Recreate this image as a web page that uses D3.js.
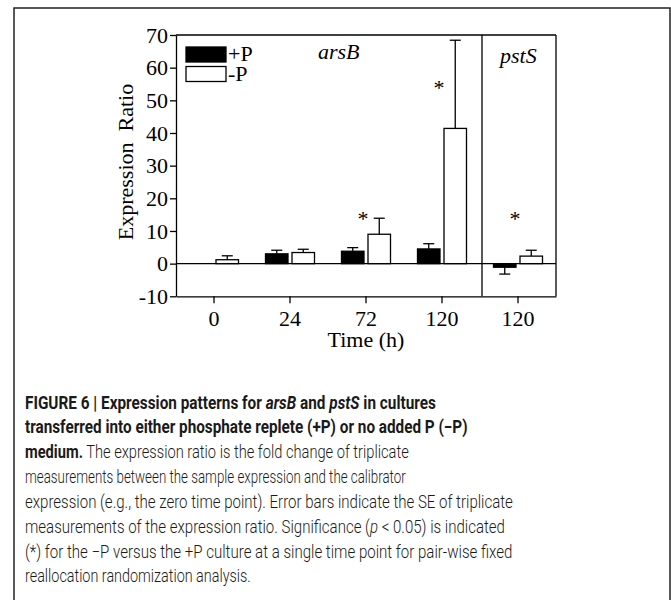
<!DOCTYPE html>
<html>
<head>
<meta charset="utf-8">
<script src="https://cdn.jsdelivr.net/npm/d3@7"></script>
<style>
  body { margin: 0; background: #fff; }
  text { white-space: pre; }
</style>
</head>
<body>
<svg id="fig" width="671" height="600"></svg>
<script>
// values
var categories = ["arsB 0", "arsB 24", "arsB 72", "arsB 120", "pstS 120"];
var tickLabels = ["0", "24", "72", "120", "120"];
var plusP     = [null, 3.0, 3.8, 4.5, -1.1];
var plusPErr  = [null, 1.1, 1.1, 1.6, 2.1];
var minusP    = [1.2, 3.4, 9.0, 41.4, 2.3];
var minusPErr = [1.2, 1.0, 4.9, 27.0, 1.8];
var starAt    = [null, null, 15, 55, 15];   // where the * sits (y units)
var yTicks    = [-10, 0, 10, 20, 30, 40, 50, 60, 70];
var legendLabels = ["+P", "-P"];

var captionLines = [
  [["FIGURE 6 | Expression patterns for ", "b"], ["arsB", "bi"], [" and ", "b"], ["pstS", "bi"], [" in cultures", "b"]],
  [["transferred into either phosphate replete (+P) or no added P (\u2212P)", "b"]],
  [["medium.", "b"], [" The expression ratio is the fold change of triplicate", ""]],
  [["measurements between the sample expression and the calibrator", ""]],
  [["expression (e.g., the zero time point). Error bars indicate the SE of triplicate", ""]],
  [["measurements of the expression ratio. Significance (", ""], ["p", "i"], [" < 0.05) is indicated", ""]],
  [["(*) for the \u2212P versus the +P culture at a single time point for pair-wise fixed", ""]],
  [["reallocation randomization analysis.", ""]]
];
var captionEnds = [436, 468, 409, 406, 513, 505, 513, 251];

var svg = d3.select("#fig");
var serif = "'Liberation Serif', 'Times New Roman', serif";
var fs = 22;

// outer frame of the figure
svg.append("rect")
  .attr("x", 14).attr("y", 8)
  .attr("width", 656).attr("height", 620)
  .attr("fill", "none").attr("stroke", "#222").attr("stroke-width", 1.5);

var plotLeft = 176, plotRight = 556, plotTop = 35, plotBottom = 296.3;

var x = d3.scaleBand()
  .domain(categories)
  .range([plotLeft, plotRight])
  .padding(0);

var y = d3.scaleLinear()
  .domain([-10, 70])
  .range([plotBottom, plotTop]);

var chart = svg.append("g");

function center(i) { return x(categories[i]) + x.bandwidth() / 2; }

var barW = 22.5;
var series = [
  { vals: plusP, errs: plusPErr, fill: "#000", off: -24.5 },
  { vals: minusP, errs: minusPErr, fill: "#fff", off: 2 }
];

function errEnd(s, i) {
  return s.vals[i] + (s.vals[i] < 0 ? -s.errs[i] : s.errs[i]);
}

series.forEach(function(s) {
  var idx = d3.range(categories.length).filter(function(i) { return s.vals[i] != null; });

  // error bars (one-sided, away from zero)
  chart.selectAll(null)
    .data(idx)
    .enter()
    .append("line")
    .attr("x1", function(i) { return center(i) + s.off + barW / 2; })
    .attr("x2", function(i) { return center(i) + s.off + barW / 2; })
    .attr("y1", function(i) { return y(s.vals[i]); })
    .attr("y2", function(i) { return y(errEnd(s, i)); })
    .attr("stroke", "#000").attr("stroke-width", 1.3);

  chart.selectAll(null)
    .data(idx)
    .enter()
    .append("line")
    .attr("x1", function(i) { return center(i) + s.off + barW / 2 - 5.5; })
    .attr("x2", function(i) { return center(i) + s.off + barW / 2 + 5.5; })
    .attr("y1", function(i) { return y(errEnd(s, i)); })
    .attr("y2", function(i) { return y(errEnd(s, i)); })
    .attr("stroke", "#000").attr("stroke-width", 1.3);

  chart.selectAll(null)
    .data(idx)
    .enter()
    .append("rect")
    .attr("x", function(i) { return center(i) + s.off; })
    .attr("y", function(i) { return y(Math.max(0, s.vals[i])); })
    .attr("width", barW)
    .attr("height", function(i) { return Math.abs(y(s.vals[i]) - y(0)); })
    .attr("fill", s.fill)
    .attr("stroke", "#000").attr("stroke-width", 1.3);
});

// significance stars
chart.selectAll(null)
  .data(d3.range(categories.length).filter(function(i) { return starAt[i] != null; }))
  .enter()
  .append("text")
  .attr("x", function(i) { return center(i) - 3; })
  .attr("y", function(i) { return y(starAt[i]) + 11; })
  .attr("text-anchor", "middle")
  .attr("font-family", serif).attr("font-size", 22)
  .text("*");

// zero line, frame and panel divider
var lines = chart.append("g").attr("stroke", "#000").attr("stroke-width", 1.3);
lines.append("line").attr("x1", plotLeft).attr("x2", plotRight).attr("y1", y(0)).attr("y2", y(0));
lines.append("line").attr("x1", plotLeft).attr("x2", plotRight).attr("y1", plotTop).attr("y2", plotTop);
lines.append("line").attr("x1", plotRight).attr("x2", plotRight).attr("y1", plotTop).attr("y2", plotBottom);
var divX = x(categories[4]) + 2;
lines.append("line").attr("x1", divX).attr("x2", divX).attr("y1", plotTop).attr("y2", plotBottom);

// axes
var yAxis = chart.append("g")
  .attr("transform", "translate(" + plotLeft + ",0)")
  .call(d3.axisLeft(y).tickValues(yTicks).tickSize(6).tickSizeOuter(0).tickPadding(2)
    .tickFormat(function(d) { return String(d); }));

var xAxis = chart.append("g")
  .attr("transform", "translate(0," + plotBottom + ")")
  .call(d3.axisBottom(x).tickSize(7).tickSizeOuter(0).tickPadding(7)
    .tickFormat(function(d, i) { return tickLabels[i]; }));

[yAxis, xAxis].forEach(function(a) {
  a.selectAll("path, line").attr("stroke", "#000").attr("stroke-width", 1.3);
  a.selectAll("text").attr("font-family", serif).attr("font-size", fs).attr("fill", "#000");
});

chart.append("text")
  .attr("x", 366).attr("y", 347)
  .attr("text-anchor", "middle")
  .attr("font-family", serif).attr("font-size", fs)
  .text("Time (h)");

chart.append("text")
  .attr("transform", "translate(133,162) rotate(-90)")
  .attr("text-anchor", "middle")
  .attr("font-family", serif).attr("font-size", fs)
  .text("Expression  Ratio");

// panel names
chart.append("text")
  .attr("x", 318).attr("y", 59)
  .attr("font-family", serif).attr("font-size", fs).attr("font-style", "italic")
  .text("arsB");
chart.append("text")
  .attr("x", 500).attr("y", 63)
  .attr("font-family", serif).attr("font-size", fs).attr("font-style", "italic")
  .text("pstS");

// legend
var legend = chart.selectAll(".legend")
  .data(legendLabels)
  .enter()
  .append("g")
  .attr("class", "legend")
  .attr("transform", function(d, i) { return "translate(186," + (47 + i * 19.5) + ")"; });

legend.append("rect")
  .attr("width", 40).attr("height", 15)
  .attr("fill", function(d, i) { return series[i].fill; })
  .attr("stroke", "#000").attr("stroke-width", 1.3);

legend.append("text")
  .attr("x", 42).attr("y", 14)
  .attr("font-family", serif).attr("font-size", fs)
  .text(function(d) { return d; });

// caption, squeezed to the reference line widths
var sans = "Roboto, 'Liberation Sans', sans-serif";
captionLines.forEach(function(segs, li) {
  var t = svg.append("text")
    .attr("x", 0).attr("y", 0)
    .attr("font-family", sans).attr("font-size", 18).attr("fill", "#1a1a1a");
  segs.forEach(function(s) {
    t.append("tspan")
      .attr("font-weight", s[1].indexOf("b") >= 0 ? 700 : 300)
      .attr("font-style", s[1].indexOf("i") >= 0 ? "italic" : "normal")
      .text(s[0]);
  });
  var w = t.node().getComputedTextLength();
  var k = (captionEnds[li] - 25) / w;
  t.attr("transform", "translate(25," + (408.5 + li * 24.85) + ") scale(" + k + ",1)");
});
</script>
</body>
</html>
